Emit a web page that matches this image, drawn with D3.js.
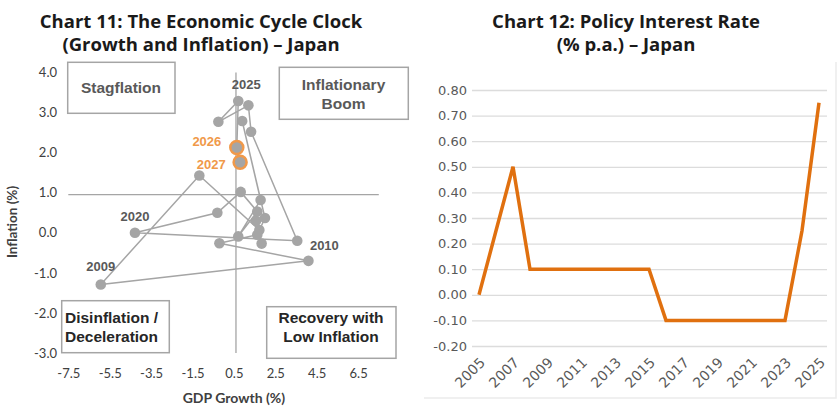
<!DOCTYPE html>
<html>
<head>
<meta charset="utf-8">
<script src="https://cdn.jsdelivr.net/npm/d3@7"></script>
<style>
  body { margin: 0; background: #fff; }
  svg { display: block; }
</style>
</head>
<body>
<svg id="chart" width="840" height="420"></svg>
<script>
// chart 11 - economic cycle clock (growth vs inflation)
var years = [2005, 2006, 2007, 2008, 2009, 2010, 2011, 2012, 2013, 2014, 2015, 2016,
             2017, 2018, 2019, 2020, 2021, 2022, 2023, 2024, 2025, 2026, 2027];
var gdpGrowth = [1.84, 1.57, 1.73, -1.17, -5.93, 4.10, -0.20, 1.63, 2.00, 0.90, 1.79, 0.71,
                 1.63, 0.83, -0.30, -4.28, 3.56, 1.33, 1.20, -0.25, 0.71, 0.64, 0.80];
var inflation = [-0.27, 0.30, 0.07, 1.43, -1.29, -0.70, -0.26, -0.05, 0.37, 2.79, 0.82, -0.09,
                 0.53, 1.02, 0.50, 0.00, -0.20, 2.52, 3.18, 2.77, 3.29, 2.13, 1.76];
var forecastYears = [2026, 2027];
var labelledYears = [2009, 2010, 2020, 2025, 2026, 2027];
var growthTicks = [-7.5, -5.5, -3.5, -1.5, 0.5, 2.5, 4.5, 6.5];
var inflationTicks = [-3, -2, -1, 0, 1, 2, 3, 4];
var avgGrowth = 0.6, avgInflation = 0.95;

// chart 12 - policy rate
var rateYears = [2005, 2006, 2007, 2008, 2009, 2010, 2011, 2012, 2013, 2014, 2015,
                 2016, 2017, 2018, 2019, 2020, 2021, 2022, 2023, 2024, 2025];
var policyRate = [0.00, 0.25, 0.50, 0.10, 0.10, 0.10, 0.10, 0.10, 0.10, 0.10, 0.10,
                  -0.10, -0.10, -0.10, -0.10, -0.10, -0.10, -0.10, -0.10, 0.25, 0.75];
var rateTicks = [-0.2, -0.1, 0, 0.1, 0.2, 0.3, 0.4, 0.5, 0.6, 0.7, 0.8];
var rateYearTicks = [2005, 2007, 2009, 2011, 2013, 2015, 2017, 2019, 2021, 2023, 2025];

var grey = "#a5a5a5", orange = "#f0994a", lineOrange = "#e0700f";
var svg = d3.select("#chart");

// ---------- left chart ----------
var x = d3.scaleLinear().domain([-7.5, 7.5]).range([68.3, 378.8]);
var y = d3.scaleLinear().domain([-3, 4]).range([353, 72.5]);

var title1 = svg.append("text")
    .attr("text-anchor", "middle")
    .style("font-family", "'Open Sans', sans-serif")
    .style("font-weight", 700)
    .style("font-size", "18.5px")
    .attr("fill", "#1a1a1a");
title1.append("tspan").attr("x", 201).attr("y", 28).text("Chart 11: The Economic Cycle Clock");
title1.append("tspan").attr("x", 201).attr("y", 51).text("(Growth and Inflation) \u2013 Japan");

// quadrant boxes
var boxes = [
  {x0: 67.7, y0: 62.3, x1: 175, y1: 113.3, lines: ["Stagflation"], tx: 121, ty: [93], col: "#595959", anchor: "middle"},
  {x0: 279.3, y0: 67.3, x1: 408.3, y1: 119.3, lines: ["Inflationary", "Boom"], tx: 343.5, ty: [90, 108.5], col: "#595959", anchor: "middle"},
  {x0: 61.7, y0: 300.7, x1: 169.3, y1: 352.7, lines: ["Disinflation /", "Deceleration"], tx: 65, ty: [323, 341.5], col: "#262626", anchor: "start"},
  {x0: 266.7, y0: 306.7, x1: 396, y1: 358.3, lines: ["Recovery with", "Low Inflation"], tx: 331, ty: [323, 341.5], col: "#262626", anchor: "middle"}
];
boxes.forEach(function(b) {
  svg.append("rect")
      .attr("x", b.x0).attr("y", b.y0)
      .attr("width", b.x1 - b.x0).attr("height", b.y1 - b.y0)
      .attr("fill", "#fff").attr("stroke", grey).attr("stroke-width", 1.5);
  b.lines.forEach(function(l, i) {
    svg.append("text")
        .attr("x", b.tx).attr("y", b.ty[i])
        .attr("text-anchor", b.anchor)
        .attr("fill", b.col)
        .style("font-family", "'Liberation Sans', Arial, sans-serif")
        .style("font-weight", 700)
        .style("font-size", "15.5px")
        .text(l);
  });
});

// reference cross lines
svg.append("line")
    .attr("x1", x(-7.5)).attr("x2", x(7.5))
    .attr("y1", y(avgInflation)).attr("y2", y(avgInflation))
    .attr("stroke", grey).attr("stroke-width", 1.3);
svg.append("line")
    .attr("x1", x(avgGrowth)).attr("x2", x(avgGrowth))
    .attr("y1", y(4)).attr("y2", y(-3))
    .attr("stroke", grey).attr("stroke-width", 1.3);

// axes
var fmt1 = function(d) { return d.toFixed(1); };
var yAx = svg.append("g")
    .attr("transform", "translate(63,0)")
    .call(d3.axisLeft(y).tickValues(inflationTicks).tickSize(0).tickPadding(6).tickFormat(fmt1));
var xAx = svg.append("g")
    .attr("transform", "translate(0,364)")
    .call(d3.axisBottom(x).tickValues(growthTicks).tickSize(0).tickPadding(4.5).tickFormat(fmt1));
[yAx, xAx].forEach(function(g) {
  g.select(".domain").remove();
  g.selectAll("text")
      .attr("fill", "#404040")
      .style("font-family", "Lato, sans-serif")
      .style("font-size", "13px");
});

svg.append("text")
    .attr("x", x(0.5)).attr("y", 403)
    .attr("text-anchor", "middle")
    .attr("fill", "#404040")
    .style("font-family", "Lato, sans-serif").style("font-weight", 700).style("font-size", "14px")
    .text("GDP Growth (%)");
svg.append("text")
    .attr("transform", "translate(17," + 222 + ") rotate(-90)")
    .attr("text-anchor", "middle")
    .attr("fill", "#404040")
    .style("font-family", "Lato, sans-serif").style("font-weight", 700).style("font-size", "13.5px")
    .text("Inflation (%)");

// path through the years
var pts = years.map(function(yr, i) { return {year: yr, g: gdpGrowth[i], p: inflation[i]}; });
var path = d3.line().x(function(d) { return x(d.g); }).y(function(d) { return y(d.p); });
svg.append("path")
    .datum(pts)
    .attr("d", path)
    .attr("fill", "none")
    .attr("stroke", grey)
    .attr("stroke-width", 1.5);

svg.selectAll(".dot")
    .data(pts)
  .enter().append("circle")
    .attr("class", "dot")
    .attr("cx", function(d) { return x(d.g); })
    .attr("cy", function(d) { return y(d.p); })
    .attr("r", function(d) { return forecastYears.indexOf(d.year) >= 0 ? 6.5 : 5.3; })
    .attr("fill", grey)
    .attr("stroke", function(d) { return forecastYears.indexOf(d.year) >= 0 ? orange : "none"; })
    .attr("stroke-width", 2.5);

// year labels (offsets from each point)
var labelOffset = {
  2009: [0, -13, "middle"], 2010: [1.5, -11, "start"], 2020: [0, -12, "middle"],
  2025: [8, -12, "middle"], 2026: [-15.5, -1, "end"], 2027: [-14.5, 7, "end"]
};
svg.selectAll(".yrlab")
    .data(pts.filter(function(d) { return labelledYears.indexOf(d.year) >= 0; }))
  .enter().append("text")
    .attr("class", "yrlab")
    .attr("x", function(d) { return x(d.g) + labelOffset[d.year][0]; })
    .attr("y", function(d) { return y(d.p) + labelOffset[d.year][1]; })
    .attr("text-anchor", function(d) { return labelOffset[d.year][2]; })
    .attr("fill", function(d) { return forecastYears.indexOf(d.year) >= 0 ? orange : "#595959"; })
    .style("font-family", "'Liberation Sans', Arial, sans-serif")
    .style("font-weight", 700)
    .style("font-size", "13px")
    .text(function(d) { return d.year; });

// ---------- right chart ----------
var title2 = svg.append("text")
    .attr("text-anchor", "middle")
    .style("font-family", "'Open Sans', sans-serif")
    .style("font-weight", 700)
    .style("font-size", "18.5px")
    .attr("fill", "#1a1a1a");
title2.append("tspan").attr("x", 626).attr("y", 28).text("Chart 12: Policy Interest Rate");
title2.append("tspan").attr("x", 626).attr("y", 51).text("(% p.a.) \u2013 Japan");

// faint panel edge
svg.append("path")
    .attr("d", "M836,62 V398 H424")
    .attr("fill", "none").attr("stroke", "#ececec").attr("stroke-width", 1.5);

var x2 = d3.scalePoint().domain(rateYears).range([479, 819]);
var y2 = d3.scaleLinear().domain([-0.2, 0.8]).range([346, 90]);

var yAx2 = svg.append("g")
    .attr("transform", "translate(472,0)")
    .call(d3.axisLeft(y2).tickValues(rateTicks).tickSizeInner(-355).tickSizeOuter(0).tickPadding(5)
      .tickFormat(function(d) { return d.toFixed(2); }));
yAx2.select(".domain").remove();
yAx2.selectAll("line").attr("stroke", "#dcdcdc").attr("stroke-width", 1.3);
yAx2.selectAll("text")
    .attr("fill", "#595959")
    .style("font-family", "'DejaVu Sans', sans-serif")
    .style("font-size", "13px");

var xAx2 = svg.append("g")
    .attr("transform", "translate(0,346)")
    .call(d3.axisBottom(x2).tickValues(rateYearTicks).tickSize(0).tickFormat(d3.format("d")));
xAx2.select(".domain").remove();
xAx2.selectAll("text")
    .attr("fill", "#595959")
    .style("font-family", "'DejaVu Sans', sans-serif")
    .style("font-size", "14px")
    .style("text-anchor", "end")
    .attr("x", 0).attr("y", 0).attr("dy", "0.35em")
    .attr("transform", "translate(3,14) rotate(-45)");

svg.append("path")
    .datum(policyRate)
    .attr("d", d3.line()
      .x(function(d, i) { return x2(rateYears[i]); })
      .y(function(d) { return y2(d); }))
    .attr("fill", "none")
    .attr("stroke", lineOrange)
    .attr("stroke-width", 3.5);
</script>
</body>
</html>
